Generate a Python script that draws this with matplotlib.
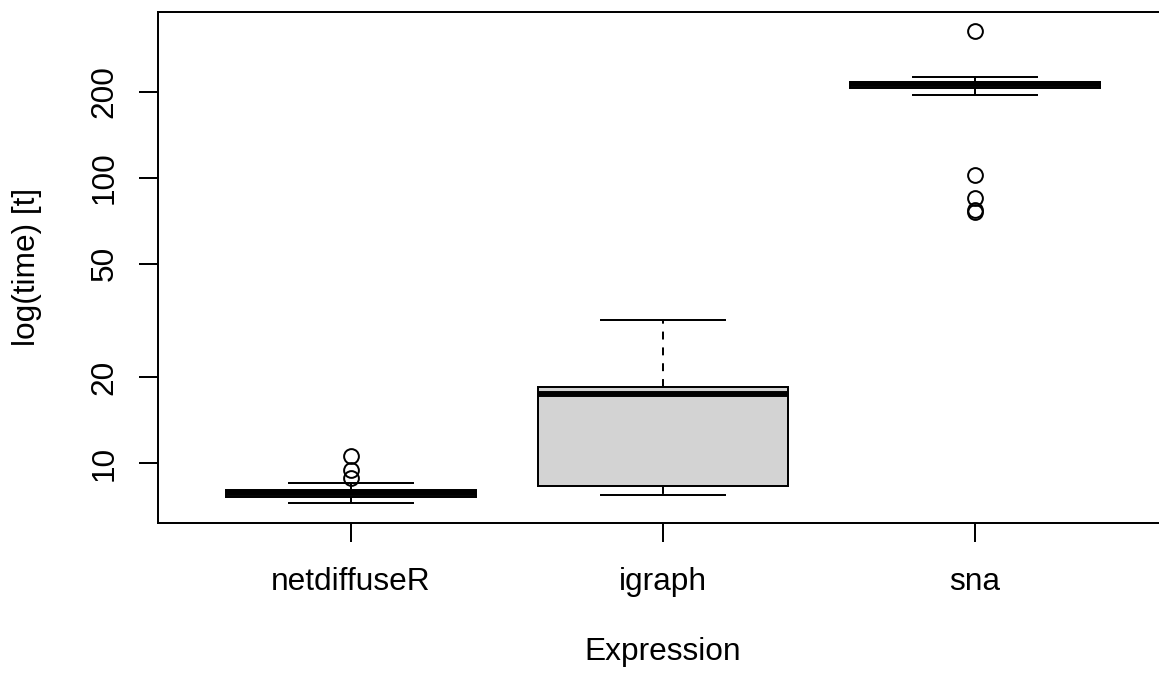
import matplotlib
matplotlib.use("Agg")
import matplotlib.pyplot as plt
from matplotlib.ticker import FixedLocator, FixedFormatter, NullLocator

# ---- data ----
labels = ["netdiffuseR", "igraph", "sna"]
whisker_low = [7.25, 7.75, 194.9]
q1 = [7.64, 8.33, 205.2]
medians = [7.87, 17.52, 211.9]
q3 = [8.07, 18.45, 216.3]
whisker_high = [8.51, 31.7, 225.3]
outliers = [[8.90, 9.51, 10.6], [], [326.3, 102.0, 84.8, 77.0, 75.6]]
y_ticks = [10, 20, 50, 100, 200]
y_tick_labels = ["10", "20", "50", "100", "200"]

plt.rcParams["font.family"] = ["Liberation Sans", "DejaVu Sans"]
plt.rcParams["font.size"] = 12

DPI = 190
fig = plt.figure(figsize=(1159 / DPI, 674 / DPI), dpi=DPI)
W, H = 1159, 674
left, right, top, bottom = 157.5, 1168.4, 12.0, 522.5
ax = fig.add_axes([left / W, 1 - bottom / H, (right - left) / W, (bottom - top) / H])

stats = []
for i, lab in enumerate(labels):
    stats.append(dict(label=lab, whislo=whisker_low[i], q1=q1[i], med=medians[i],
                      q3=q3[i], whishi=whisker_high[i], fliers=outliers[i]))

lw = 0.75
ax.bxp(stats, positions=[1, 2, 3], widths=0.8, capwidths=0.4, patch_artist=True,
       boxprops=dict(facecolor="#D3D3D3", edgecolor="black", linewidth=lw),
       medianprops=dict(color="black", linewidth=2.25, solid_capstyle="butt"),
       whiskerprops=dict(color="black", linewidth=lw, linestyle=(0, (4, 4))),
       capprops=dict(color="black", linewidth=lw),
       flierprops=dict(marker="o", markerfacecolor="none", markeredgecolor="black",
                       markersize=5.6, markeredgewidth=lw, linestyle="none"))

ax.set_yscale("log")
ax.set_xlim(0.38, 3.62)
ax.set_ylim(6.21, 379.5)
ax.yaxis.set_major_locator(FixedLocator(y_ticks))
ax.yaxis.set_major_formatter(FixedFormatter(y_tick_labels))
ax.yaxis.set_minor_locator(NullLocator())
ax.set_xticks([1, 2, 3])
ax.set_xticklabels(labels)

for sp in ax.spines.values():
    sp.set_linewidth(lw)
    sp.set_color("black")

ax.tick_params(axis="both", which="major", length=7.2, width=lw, color="black",
               labelsize=12, labelcolor="black")
ax.tick_params(axis="x", pad=9.5)
ax.tick_params(axis="y", pad=7.3, labelrotation=90)
plt.setp(ax.get_yticklabels(), va="center", ha="right")

ax.set_ylabel("log(time) [t]", fontsize=12)
ax.yaxis.set_label_coords((42 - left) / (right - left), 0.5)
ax.set_xlabel("Expression", fontsize=12)
ax.xaxis.set_label_coords(0.5, -(637 - bottom) / (bottom - top))

fig.savefig("out.png", dpi=DPI)
